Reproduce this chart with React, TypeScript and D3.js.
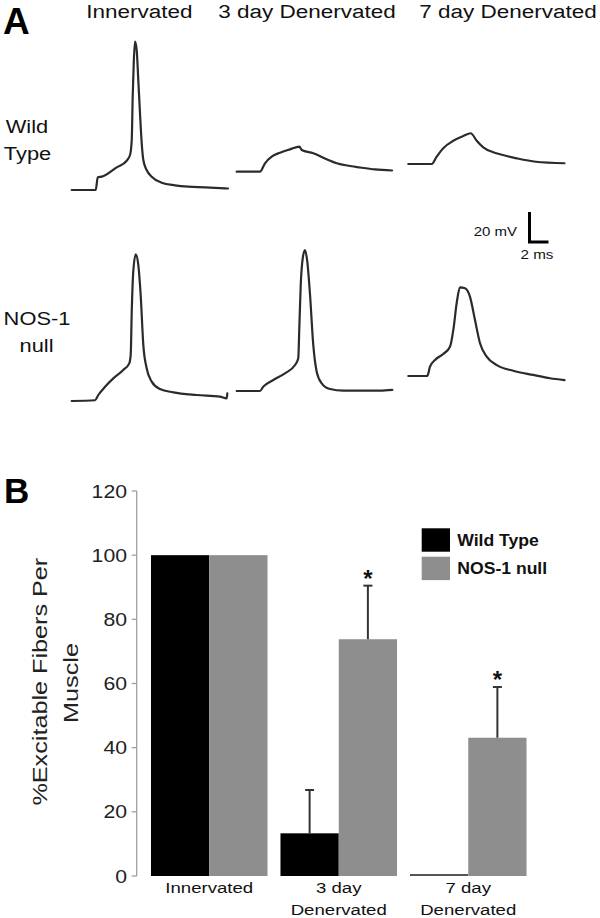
import React from "react";
import * as d3 from "d3";

// ---------- Panel A data: traces as [time (ms), voltage (mV) above resting] ----------
const traceWTInnervated: [number, number][] = [
  [0, 0], [2.53, 0], [2.74, 8.5], [3.16, 8.9], [4.74, 15.1], [5.79, 19.5], [6.14, 23.3],
  [6.32, 33.3], [6.42, 62.2], [6.53, 84.5], [6.66, 98.9], [6.84, 93.3], [7.01, 73.3],
  [7.19, 51.1], [7.37, 31.1], [7.54, 20], [7.89, 13.3], [8.42, 8.9], [9.47, 4.9],
  [10.87, 3.1], [12.27, 2.2], [14.03, 1.8], [16.45, 1.0],
];
const traceWT3Day: [number, number][] = [
  [0, 0], [2.45, 0], [2.98, 5.6], [3.68, 10], [4.56, 12.7], [5.61, 14.9], [6.59, 16.7],
  [6.84, 14.5], [8.06, 12.3], [9.47, 8.3], [10.53, 5.6], [11.93, 3.8], [12.98, 2.8],
  [14.56, 1.5], [16.35, 0.8],
];
const traceWT7Day: [number, number][] = [
  [0, 0], [2.46, 0], [2.99, 4.9], [3.68, 10.5], [4.74, 15.5], [5.79, 18.7], [6.57, 20.5],
  [7.2, 15.5], [7.89, 11.1], [8.95, 7.8], [9.65, 6.5], [11.4, 3.8], [13.42, 1.5], [16.44, 0.5],
];
const traceNOSInnervated: [number, number][] = [
  [0, 0], [2.45, 0.5], [2.8, 4], [3.51, 9.5], [4.38, 15.1], [5.43, 20.7], [6.06, 25.1],
  [6.21, 30.7], [6.32, 59.5], [6.48, 86.2], [6.74, 97.8], [7.01, 90.7], [7.26, 70.7],
  [7.54, 37.3], [7.89, 21.8], [8.42, 12.9], [9.29, 8], [10.69, 5.8], [13.16, 4],
  [15.61, 2.9], [16.32, 1.8], [16.38, 5.1],
];
const traceNOS3Day: [number, number][] = [
  [0, 0], [2.45, 0], [2.8, 2.9], [3.85, 7.3], [5.08, 11.8], [6.14, 17.3], [6.48, 21.8],
  [6.59, 41.8], [6.74, 70.7], [6.95, 88.5], [7.19, 94], [7.43, 86.2], [7.72, 64],
  [8.06, 30.7], [8.42, 12.9], [8.95, 5.1], [9.82, 1.3], [11.22, 0.2], [15.08, 0.2], [16.38, 0.7],
];
const traceNOS7Day: [number, number][] = [
  [0, 0], [2, 0], [2.28, 6.2], [2.81, 10.7], [3.68, 14.7], [4.39, 19.5], [4.74, 30.7],
  [5.09, 48.5], [5.44, 59.1], [5.97, 58.5], [6.49, 52.9], [7.02, 37.3], [7.55, 21.8],
  [8.25, 12.9], [9.31, 7.3], [11.05, 3.5], [13.16, 0.7], [14.92, -1.5], [16.44, -2.7],
];
const conditionLabels = ["Innervated", "3 day Denervated", "7 day Denervated"];
const scaleBarMs = 2;
const scaleBarMv = 20;

// ---------- Panel B data ----------
const categories = ["Innervated", "3 day Denervated", "7 day Denervated"];
const categoryLines = [["Innervated"], ["3 day", "Denervated"], ["7 day", "Denervated"]];
const seriesNames = ["Wild Type", "NOS-1 null"];
const wildTypeValues = [100, 13.3, 0];
const nosNullValues = [100, 73.8, 43.1];
const wildTypeErrors = [0, 13.5, 0];
const nosNullErrors = [0, 16.7, 15.8];
const nosSignificant = [false, true, true];
const yTicks = [0, 20, 40, 60, 80, 100, 120];

const FONT = "Arial, 'Liberation Sans', Helvetica, sans-serif";
const seriesColors = ["#000000", "#8e8e8e"];

function T(props: {
  x: number; y: number; size: number; text: string; anchor?: string; weight?: string;
  sx?: number; fill?: string; rotate?: number;
}) {
  const { x, y, size, text, anchor = "start", weight = "normal", sx = 1, fill = "#111", rotate = 0 } = props;
  return (
    <text
      transform={`translate(${x},${y}) rotate(${rotate}) scale(${sx},1)`}
      fontSize={size}
      fontFamily={FONT}
      fontWeight={weight}
      textAnchor={anchor}
      fill={fill}
    >
      {text}
    </text>
  );
}

export default function App() {
  // trace scales (relative to trace origin)
  const tScale = d3.scaleLinear().domain([0, 2]).range([0, 19]);
  const vScale = d3.scaleLinear().domain([0, 20]).range([0, -30]);
  const line = d3
    .line<[number, number]>()
    .x((d) => tScale(d[0]))
    .y((d) => vScale(d[1]))
    .curve(d3.curveMonotoneX);

  const traces = [
    { data: traceWTInnervated, ox: 71.7, oy: 190 },
    { data: traceWT3Day, ox: 236.7, oy: 171.7 },
    { data: traceWT7Day, ox: 408.3, oy: 164 },
    { data: traceNOSInnervated, ox: 71.7, oy: 401 },
    { data: traceNOS3Day, ox: 236.7, oy: 391 },
    { data: traceNOS7Day, ox: 408.3, oy: 376 },
  ];
  const headerX = [139.3, 307, 508];

  // bar chart scales
  const y = d3.scaleLinear().domain([0, 120]).range([876, 491]);
  const x0 = d3.scaleBand().domain(categories).range([144.5, 533]).paddingInner(0.1).paddingOuter(0.05);
  const x1 = d3.scaleBand().domain(seriesNames).range([0, x0.bandwidth()]).padding(0);
  const seriesValues = [wildTypeValues, nosNullValues];
  const seriesErrors = [wildTypeErrors, nosNullErrors];
  const axisX = 136.7;

  // scale bar
  const sbX = 529.5;
  const sbY = 242;

  return (
    <svg
      width={600}
      height={918}
      style={{ position: "absolute", left: 0, top: 0, display: "block", background: "#fff" }}
    >
      <rect width={600} height={918} fill="#fff" />
      {/* Panel A */}
      <T x={3} y={34} size={37} weight="bold" text="A" fill="#000" />
      {conditionLabels.map((c, i) => (
        <T key={c} x={headerX[i]} y={17.5} size={18} sx={1.25} anchor="middle" text={c} />
      ))}
      <T x={27} y={133} size={19} sx={1.15} anchor="middle" text="Wild" />
      <T x={27.5} y={159.5} size={19} sx={1.15} anchor="middle" text="Type" />
      <T x={37} y={325} size={19} sx={1.15} anchor="middle" text="NOS-1" />
      <T x={36.5} y={351.5} size={19} sx={1.15} anchor="middle" text="null" />
      {traces.map((tr, i) => (
        <path
          key={i}
          transform={`translate(${tr.ox},${tr.oy})`}
          d={line(tr.data) || ""}
          fill="none"
          stroke="#2b2b2b"
          strokeWidth={2.2}
          strokeLinejoin="round"
          strokeLinecap="round"
        />
      ))}
      {/* scale bar */}
      <path
        d={`M${sbX},${sbY + vScale(scaleBarMv)}V${sbY}H${sbX + tScale(scaleBarMs)}`}
        fill="none"
        stroke="#000"
        strokeWidth={3}
      />
      <T x={517} y={236} size={12} sx={1.25} anchor="end" text={`${scaleBarMv} mV`} />
      <T x={537} y={259} size={13} sx={1.17} anchor="middle" text={`${scaleBarMs} ms`} />

      {/* Panel B */}
      <T x={4} y={503} size={35} weight="bold" text="B" fill="#000" />
      <line x1={axisX} x2={axisX} y1={y(120)} y2={y(0)} stroke="#9a9a9a" strokeWidth={1.2} />
      {yTicks.map((t) => (
        <g key={t}>
          <line x1={axisX - 5} x2={axisX} y1={y(t)} y2={y(t)} stroke="#9a9a9a" strokeWidth={1.2} />
          <T x={127} y={y(t) + 6.5} size={18} sx={1.18} anchor="end" text={String(t)} fill="#222" />
        </g>
      ))}
      <T x={47} y={681.7} size={21} sx={1.2} rotate={-90} anchor="middle" text="%Excitable Fibers Per" fill="#222" />
      <T x={77.5} y={683} size={21} sx={1.2} rotate={-90} anchor="middle" text="Muscle" fill="#222" />

      {categories.map((c, ci) => (
        <g key={c} transform={`translate(${x0(c)},0)`}>
          {seriesNames.map((s, si) => {
            const v = seriesValues[si][ci];
            const h = Math.max(y(0) - y(v), 2);
            return (
              <rect
                key={s}
                x={x1(s)}
                y={y(0) - h}
                width={x1.bandwidth()}
                height={h}
                fill={v === 0 ? "#555" : seriesColors[si]}
              />
            );
          })}
          {seriesNames.map((s, si) => {
            const v = seriesValues[si][ci];
            const e = seriesErrors[si][ci];
            if (!e) return null;
            const cx = (x1(s) as number) + x1.bandwidth() / 2;
            return (
              <g key={s + "err"} stroke="#333" strokeWidth={2}>
                <line x1={cx} x2={cx} y1={y(v)} y2={y(v + e)} />
                <line x1={cx - 4.5} x2={cx + 4.5} y1={y(v + e)} y2={y(v + e)} />
              </g>
            );
          })}
          {nosSignificant[ci] && (
            <T
              x={(x1(seriesNames[1]) as number) + x1.bandwidth() / 2}
              y={y(nosNullValues[ci] + nosNullErrors[ci]) + 1}
              size={24}
              weight="bold"
              anchor="middle"
              text="*"
              fill="#111"
            />
          )}
          {categoryLines[ci].map((ln, li) => (
            <T
              key={ln}
              x={x0.bandwidth() / 2}
              y={892.5 + li * 22.5}
              size={15.5}
              sx={1.2}
              anchor="middle"
              text={ln}
              fill="#111"
            />
          ))}
        </g>
      ))}

      {/* legend */}
      {seriesNames.map((s, i) => (
        <g key={s}>
          <rect x={421.7} y={528.3 + i * 28.4} width={28.3} height={23.4} fill={seriesColors[i]} />
          <T x={457.3} y={545.7 + i * 28.4} size={16} sx={1.1} weight="bold" text={s} fill="#111" />
        </g>
      ))}
    </svg>
  );
}
